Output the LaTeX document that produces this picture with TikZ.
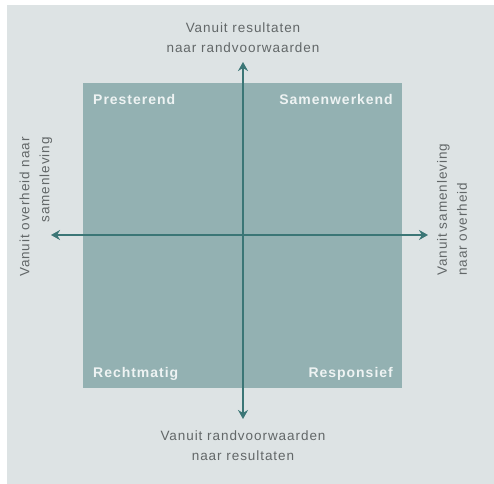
\documentclass[tikz,border=0pt]{standalone}
\usepackage{fontspec}
\setmainfont{Liberation Sans}[LetterSpace=7]
\usetikzlibrary{arrows.meta}
\definecolor{panelbg}{HTML}{DDE3E4}
\definecolor{boxfill}{HTML}{93B1B2}
\definecolor{axiscol}{HTML}{3B7676}
\definecolor{txtcol}{HTML}{626768}
\definecolor{lblcol}{HTML}{EEF3F3}
\tikzset{
  axistext/.style={text=txtcol, inner sep=0pt, font=\fontsize{13.5bp}{20bp}\selectfont},
  quadlabel/.style={text=lblcol, inner sep=0pt, font=\bfseries\fontsize{14bp}{20bp}\selectfont},
  axisline/.style={draw=axiscol, line width=2bp, {Stealth[length=9bp,width=10bp]}-{Stealth[length=9bp,width=10bp]}}
}
\begin{document}
\begin{tikzpicture}[x=1bp,y=-1bp]
\useasboundingbox (0,0) rectangle (494,484);
\fill[panelbg] (7,5) rectangle (494,484);
\fill[boxfill] (83,83) rectangle (402,388);
\coordinate (top) at (243,62);
\coordinate (bot) at (243,419);
\coordinate (lft) at (51,235);
\coordinate (rgt) at (428,235);
\draw[axisline] (top) -- (bot);
\draw[axisline] (lft) -- (rgt);
\node[axistext, align=center] (ttop) at (243,38) {Vanuit resultaten\\naar randvoorwaarden};
\node[axistext, align=center] (tbot) at (243,446) {Vanuit randvoorwaarden\\naar resultaten};
\node[axistext, align=right, rotate=90, anchor=east] (tlft) at (36,137) {Vanuit overheid naar\\samenleving};
\node[axistext, align=left, rotate=90, anchor=west] (trgt) at (452,276) {Vanuit samenleving\\naar overheid};
\node[quadlabel, anchor=base west] (q1) at (93,105) {Presterend};
\node[quadlabel, anchor=base east] (q2) at (393,105) {Samenwerkend};
\node[quadlabel, anchor=base west] (q3) at (93,377) {Rechtmatig};
\node[quadlabel, anchor=base east] (q4) at (393,377) {Responsief};
\end{tikzpicture}
\end{document}
